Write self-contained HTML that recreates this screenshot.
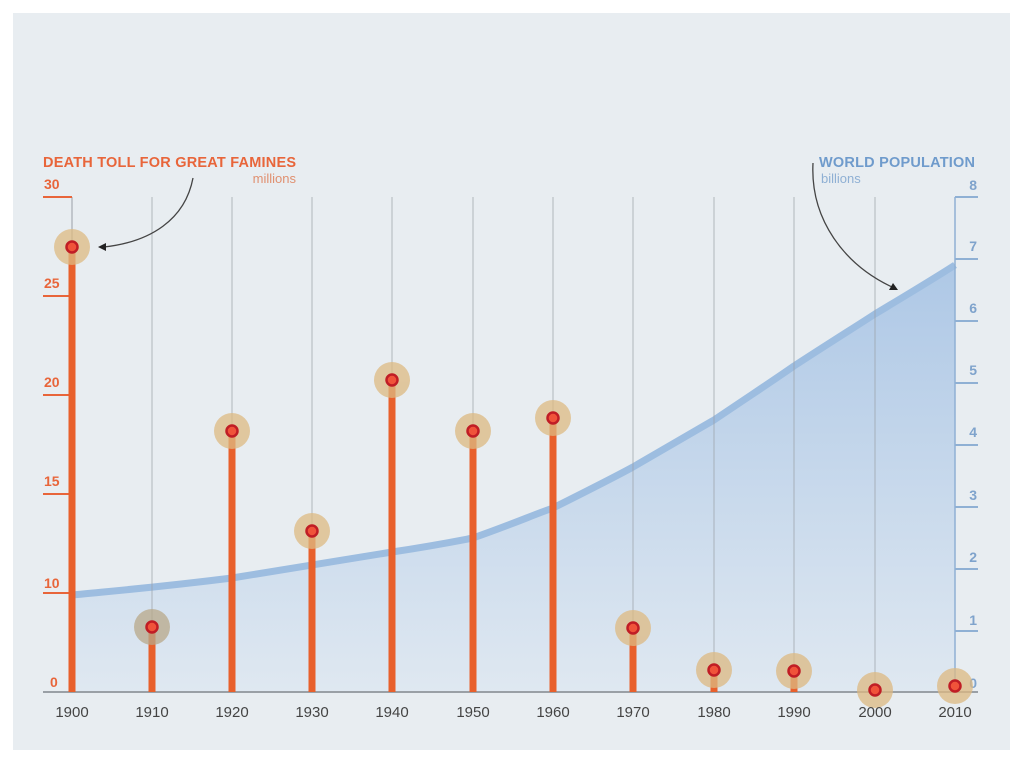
<!DOCTYPE html>
<html><head><meta charset="utf-8"><style>
body{margin:0;background:#fff;width:1024px;height:762px;overflow:hidden}
svg{display:block}
text{font-family:"Liberation Sans",sans-serif}
</style></head><body>
<svg width="1024" height="762" viewBox="0 0 1024 762">
<defs>
<linearGradient id="fill" gradientUnits="userSpaceOnUse" x1="0" y1="265" x2="0" y2="692">
<stop offset="0" stop-color="#aec8e6"/><stop offset="1" stop-color="#dfe8f1"/>
</linearGradient>
</defs>
<rect x="13" y="13" width="997" height="737" fill="#e8edf1"/>
<path d="M72,595 C112,591 152,588 232,578 C272,572 312,565 392,552 C432,546 452,542 473,538 C513,524 533,515 553,508 C593,488 613,478 633,467 C673,444 693,432 714,420 C754,393 774,380 794,366 C834,340 855,327 875,314 C915,290 935,278 955,265 L955,692 L72,692 Z" fill="url(#fill)"/>
<path d="M72,595 C112,591 152,588 232,578 C272,572 312,565 392,552 C432,546 452,542 473,538 C513,524 533,515 553,508 C593,488 613,478 633,467 C673,444 693,432 714,420 C754,393 774,380 794,366 C834,340 855,327 875,314 C915,290 935,278 955,265" fill="none" stroke="#9dbde0" stroke-width="7"/>
<g stroke="#9aa0a6" stroke-width="1" opacity="0.7">
<line x1="152" y1="197" x2="152" y2="692"/><line x1="232" y1="197" x2="232" y2="692"/><line x1="312" y1="197" x2="312" y2="692"/><line x1="392" y1="197" x2="392" y2="692"/><line x1="473" y1="197" x2="473" y2="692"/><line x1="553" y1="197" x2="553" y2="692"/><line x1="633" y1="197" x2="633" y2="692"/><line x1="714" y1="197" x2="714" y2="692"/><line x1="794" y1="197" x2="794" y2="692"/><line x1="875" y1="197" x2="875" y2="692"/>
</g>
<line x1="72" y1="197" x2="72" y2="692" stroke="#9aa0a6"/>
<line x1="955" y1="197" x2="955" y2="692" stroke="#8fb0d4" stroke-width="1.5"/>
<g stroke="#e8653a" stroke-width="2">
<line x1="43" y1="197" x2="72" y2="197"/><line x1="43" y1="296" x2="72" y2="296"/><line x1="43" y1="395" x2="72" y2="395"/><line x1="43" y1="494" x2="72" y2="494"/><line x1="43" y1="593" x2="72" y2="593"/>
</g>
<g fill="#e8653a" font-size="14" font-weight="bold">
<text x="44" y="189">30</text><text x="44" y="288">25</text><text x="44" y="387">20</text><text x="44" y="486">15</text><text x="44" y="588">10</text><text x="50" y="687">0</text>
</g>
<g stroke="#8fb0d4" stroke-width="2">
<line x1="955" y1="197" x2="978" y2="197"/><line x1="955" y1="259" x2="978" y2="259"/><line x1="955" y1="321" x2="978" y2="321"/><line x1="955" y1="383" x2="978" y2="383"/><line x1="955" y1="445" x2="978" y2="445"/><line x1="955" y1="507" x2="978" y2="507"/><line x1="955" y1="569" x2="978" y2="569"/><line x1="955" y1="631" x2="978" y2="631"/>
</g>
<g fill="#7fa3cc" font-size="14" font-weight="bold" text-anchor="end">
<text x="977" y="190">8</text><text x="977" y="251">7</text><text x="977" y="313">6</text><text x="977" y="375">5</text><text x="977" y="437">4</text><text x="977" y="500">3</text><text x="977" y="562">2</text><text x="977" y="625">1</text><text x="977" y="688">0</text>
</g>
<line x1="43" y1="692" x2="978" y2="692" stroke="#9aa0a6" stroke-width="2"/>
<g stroke="#e8602c" stroke-width="7">
<line x1="72" y1="247" x2="72" y2="692"/><line x1="152" y1="627" x2="152" y2="692"/><line x1="232" y1="431" x2="232" y2="692"/><line x1="312" y1="531" x2="312" y2="692"/><line x1="392" y1="380" x2="392" y2="692"/><line x1="473" y1="431" x2="473" y2="692"/><line x1="553" y1="418" x2="553" y2="692"/><line x1="633" y1="628" x2="633" y2="692"/><line x1="714" y1="670" x2="714" y2="692"/><line x1="794" y1="671" x2="794" y2="692"/><line x1="875" y1="690" x2="875" y2="692"/><line x1="955" y1="686" x2="955" y2="692"/>
</g>
<g fill="#ddb982" opacity="0.75">
<circle cx="72" cy="247" r="18"/><circle cx="152" cy="627" r="18" fill="#b8a88a"/><circle cx="232" cy="431" r="18"/><circle cx="312" cy="531" r="18"/><circle cx="392" cy="380" r="18"/><circle cx="473" cy="431" r="18"/><circle cx="553" cy="418" r="18"/><circle cx="633" cy="628" r="18"/><circle cx="714" cy="670" r="18"/><circle cx="794" cy="671" r="18"/><circle cx="875" cy="690" r="18"/><circle cx="955" cy="686" r="18"/>
</g>
<g fill="#f0533a" stroke="#c01d25" stroke-width="2.5">
<circle cx="72" cy="247" r="5.5"/><circle cx="152" cy="627" r="5.5"/><circle cx="232" cy="431" r="5.5"/><circle cx="312" cy="531" r="5.5"/><circle cx="392" cy="380" r="5.5"/><circle cx="473" cy="431" r="5.5"/><circle cx="553" cy="418" r="5.5"/><circle cx="633" cy="628" r="5.5"/><circle cx="714" cy="670" r="5.5"/><circle cx="794" cy="671" r="5.5"/><circle cx="875" cy="690" r="5.5"/><circle cx="955" cy="686" r="5.5"/>
</g>
<g fill="#444" font-size="15" text-anchor="middle">
<text x="72" y="717">1900</text><text x="152" y="717">1910</text><text x="232" y="717">1920</text><text x="312" y="717">1930</text><text x="392" y="717">1940</text><text x="473" y="717">1950</text><text x="553" y="717">1960</text><text x="633" y="717">1970</text><text x="714" y="717">1980</text><text x="794" y="717">1990</text><text x="875" y="717">2000</text><text x="955" y="717">2010</text>
</g>
<text x="43" y="167" fill="#e8653a" font-size="14.5" font-weight="bold" textLength="253" lengthAdjust="spacing">DEATH TOLL FOR GREAT FAMINES</text>
<text x="296" y="183" fill="#e09070" font-size="13" text-anchor="end">millions</text>
<text x="819" y="167" fill="#6f9bcc" font-size="14.5" font-weight="bold" textLength="156" lengthAdjust="spacing">WORLD POPULATION</text>
<text x="821" y="183" fill="#8fb0d4" font-size="13">billions</text>
<path d="M193,178 C185,220 150,242 104,247" fill="none" stroke="#444" stroke-width="1.3"/>
<path d="M98,247 L106,243 L106,251 Z" fill="#222"/>
<path d="M813,163 C810,220 845,265 892,287" fill="none" stroke="#444" stroke-width="1.3"/>
<path d="M898,290 L889,290 L893,283 Z" fill="#222"/>
</svg>
</body></html>
